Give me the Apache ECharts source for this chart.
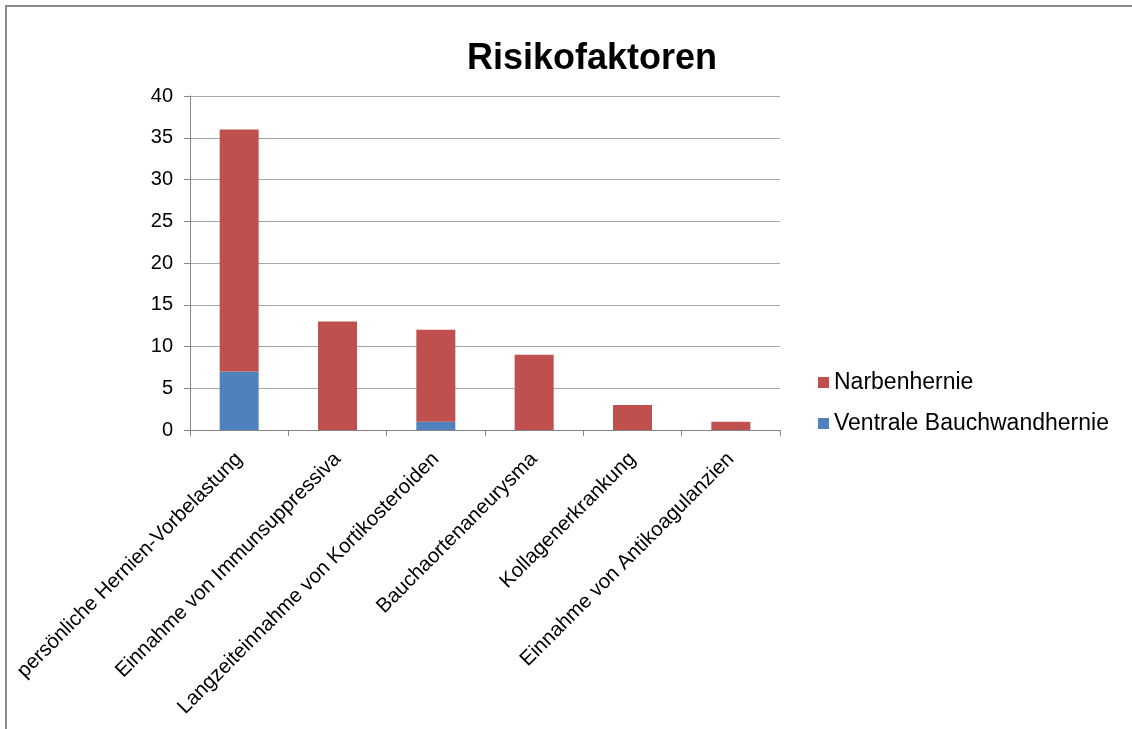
<!DOCTYPE html>
<html>
<head>
<meta charset="utf-8">
<script src="https://cdn.jsdelivr.net/npm/echarts@6/dist/echarts.min.js"></script>
<style>
  html, body { margin: 0; padding: 0; background: #fff; }
  #chart { width: 1132px; height: 729px; }
</style>
</head>
<body>
<div id="chart"></div>
<script>
var categories = [
  'persönliche Hernien-Vorbelastung',
  'Einnahme von Immunsuppressiva',
  'Langzeiteinnahme von Kortikosteroiden',
  'Bauchaortenaneurysma',
  'Kollagenerkrankung',
  'Einnahme von Antikoagulanzien'
]
var ventraleValues = [7, 0, 1, 0, 0, 0]
var narbenValues = [29, 13, 11, 9, 3, 1]
var yTicks = [0, 5, 10, 15, 20, 25, 30, 35, 40]

var chart = echarts.init(document.getElementById('chart'))
var font = 'Arial, "Liberation Sans", sans-serif'

var option = {
  backgroundColor: '#fff',
  animation: false,
  title: {
    text: 'Risikofaktoren',
    left: 587,
    textAlign: 'center',
    top: 36,
    textStyle: {
      fontFamily: font,
      fontSize: 36,
      fontWeight: 'bold',
      color: '#000'
    }
  },
  graphic: [
    {
      type: 'rect',
      shape: { x: 6, y: 6, width: 1300, height: 900 },
      style: { fill: 'none', stroke: '#8c8c8c', lineWidth: 2 },
      silent: true
    }
  ],
  legend: {
    orient: 'vertical',
    left: 818,
    top: 371,
    padding: 0,
    itemWidth: 11,
    itemHeight: 11,
    itemGap: 18,
    icon: 'rect',
    data: ['Narbenhernie', 'Ventrale Bauchwandhernie'],
    textStyle: {
      fontFamily: font,
      fontSize: 23,
      lineHeight: 22,
      color: '#000'
    }
  },
  grid: {
    left: 190,
    top: 96,
    right: 352,
    bottom: 299
  },
  xAxis: {
    type: 'category',
    data: categories,
    axisLine: { lineStyle: { color: '#868686', width: 1 } },
    axisTick: { show: true, length: 6, lineStyle: { color: '#868686' } },
    axisLabel: {
      rotate: 45,
      interval: 0,
      margin: 26,
      fontFamily: font,
      fontSize: 20.5,
      color: '#000'
    }
  },
  yAxis: {
    type: 'value',
    min: yTicks[0],
    max: yTicks[yTicks.length - 1],
    interval: 5,
    axisLine: { show: true, lineStyle: { color: '#868686', width: 1 } },
    axisTick: { show: true, length: 6, lineStyle: { color: '#868686' } },
    splitLine: { lineStyle: { color: '#a6a6a6', width: 1 } },
    axisLabel: {
      margin: 17,
      fontFamily: font,
      fontSize: 20,
      color: '#000'
    }
  },
  series: [
    {
      name: 'Ventrale Bauchwandhernie',
      type: 'bar',
      stack: 'total',
      barWidth: 39,
      itemStyle: { color: '#4f81bd' },
      data: ventraleValues
    },
    {
      name: 'Narbenhernie',
      type: 'bar',
      stack: 'total',
      barWidth: 39,
      itemStyle: { color: '#c0504d' },
      data: narbenValues
    }
  ]
}
chart.setOption(option)
</script>
</body>
</html>
